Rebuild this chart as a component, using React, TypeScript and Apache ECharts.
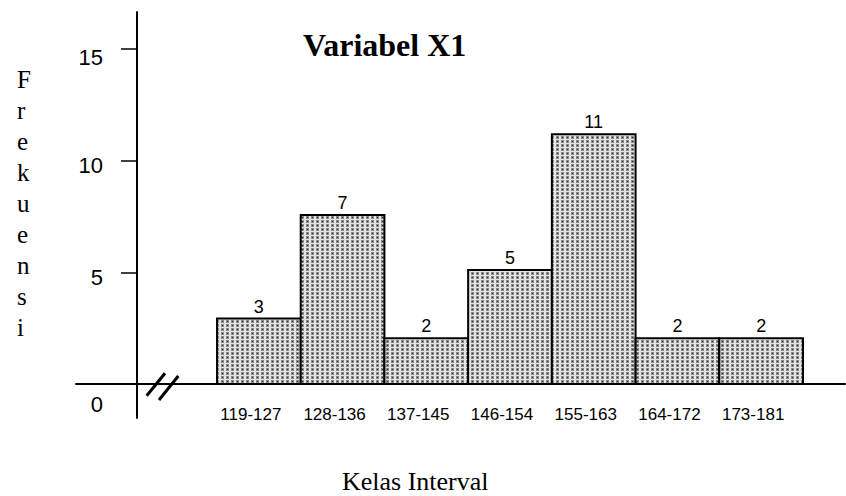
import React, { useEffect, useRef } from "react";
import * as echarts from "echarts";

// ---- data ----
const categories = ["119-127", "128-136", "137-145", "146-154", "155-163", "164-172", "173-181"];
const barHeights = [2.93, 7.57, 2.05, 5.1, 11.18, 2.05, 2.05];
const barLabels = ["3", "7", "2", "5", "11", "2", "2"];
const yTickValues = [5, 10, 15];
const yLabelValues = [0, 5, 10, 15];
const titleText = "Variabel X1";
const xTitle = "Kelas Interval";
const yTitle = "Frekuensi";

function makePattern(): HTMLCanvasElement {
  const c = document.createElement("canvas");
  c.width = 5;
  c.height = 4;
  const ctx = c.getContext("2d")!;
  ctx.fillStyle = "#e4e4e4";
  ctx.fillRect(0, 0, 5, 4);
  ctx.fillStyle = "#888888";
  ctx.fillRect(1, 0, 3, 3);
  ctx.fillStyle = "#333333";
  ctx.fillRect(2, 1, 1, 1);
  return c;
}

export default function App() {
  const ref = useRef<HTMLDivElement>(null);
  useEffect(() => {
    if (!ref.current) return;
    const chart = echarts.init(ref.current, null, { renderer: "svg" });
    const pat = makePattern();
    const pattern = { image: pat, repeat: "repeat", imageWidth: 5, imageHeight: 4 } as any;
    const data = categories.map((_, i) => [i, i + 1, barHeights[i]]);
    const sans = '"Liberation Sans", Arial, sans-serif';
    const serif = '"Liberation Serif", "Times New Roman", serif';

    chart.setOption({
      animation: false,
      backgroundColor: "#ffffff",
      grid: { left: 76, right: 1, top: 12, bottom: 78, containLabel: false, outerBoundsMode: "none" },
      xAxis: {
        type: "value",
        min: -1.6843,
        max: 7.5017,
        axisLine: { show: true, onZero: true, lineStyle: { color: "#000", width: 2 } },
        axisTick: { show: false },
        splitLine: { show: false },
        axisLabel: {
          customValues: categories.map((_, i) => i + 0.5),
          formatter: (v: number) => categories[Math.round(v - 0.5)] ?? "",
          margin: -12.5,
          padding: [0, 16, 0, 0],
          color: "#000",
          fontFamily: sans,
          fontSize: 17,
        },
      },
      yAxis: {
        type: "value",
        min: -1.522,
        max: 16.657,
        offset: -61,
        axisLine: { show: true, onZero: false, lineStyle: { color: "#000", width: 2 } },
        axisTick: { show: true, customValues: yTickValues, length: 16, lineStyle: { color: "#000", width: 1.5 } },
        splitLine: { show: false },
        axisLabel: {
          customValues: yLabelValues,
          margin: 34,
          formatter: (v: number) => `{t${v}|${v}}`,
          rich: {
            t0: { padding: [41, 0, 0, 0], fontSize: 22, fontFamily: sans, color: "#000" },
            t5: { padding: [10, 0, 0, 0], fontSize: 22, fontFamily: sans, color: "#000" },
            t10: { padding: [10, 0, 0, 0], fontSize: 22, fontFamily: sans, color: "#000" },
            t15: { padding: [16, 0, 0, 0], fontSize: 22, fontFamily: sans, color: "#000" },
          },
          color: "#000",
          fontFamily: sans,
          fontSize: 22,
        },
      },
      graphic: [
        { type: "text", left: 303, top: 29, style: { text: titleText, font: `bold 32px ${serif}`, fill: "#000" } },
        { type: "text", left: 342, top: 468, style: { text: xTitle, font: `26px ${serif}`, fill: "#000" } },
        {
          type: "text",
          left: 17,
          top: 64,
          style: { text: yTitle.split("").join("\n"), font: `25px ${serif}`, lineHeight: 31, fill: "#000" },
        },
        { type: "line", shape: { x1: 146.7, y1: 395.7, x2: 165, y2: 373.3 }, style: { stroke: "#000", lineWidth: 3 } },
        { type: "line", shape: { x1: 159, y1: 400, x2: 178.3, y2: 376 }, style: { stroke: "#000", lineWidth: 3 } },
      ],
      series: [
        {
          type: "custom",
          data,
          encode: { x: [0, 1], y: 2 },
          clip: false,
          renderItem: (params: any, api: any) => {
            const i = params.dataIndex;
            const p0 = api.coord([api.value(0), api.value(2)]);
            const p1 = api.coord([api.value(1), 0]);
            return {
              type: "group",
              children: [
                {
                  type: "rect",
                  shape: { x: p0[0], y: p0[1], width: p1[0] - p0[0], height: p1[1] - p0[1] },
                  style: { fill: pattern, stroke: "#000", lineWidth: 2 },
                },
                {
                  type: "text",
                  style: {
                    text: barLabels[i],
                    x: (p0[0] + p1[0]) / 2,
                    y: p0[1] - 3,
                    align: "center",
                    verticalAlign: "bottom",
                    font: `18px ${sans}`,
                    fill: "#000",
                  },
                },
              ],
            };
          },
        },
      ],
    });
    return () => chart.dispose();
  }, []);
  return <div ref={ref} style={{ position: "fixed", left: 0, top: 0, width: 846, height: 496, background: "#fff" }} />;
}
